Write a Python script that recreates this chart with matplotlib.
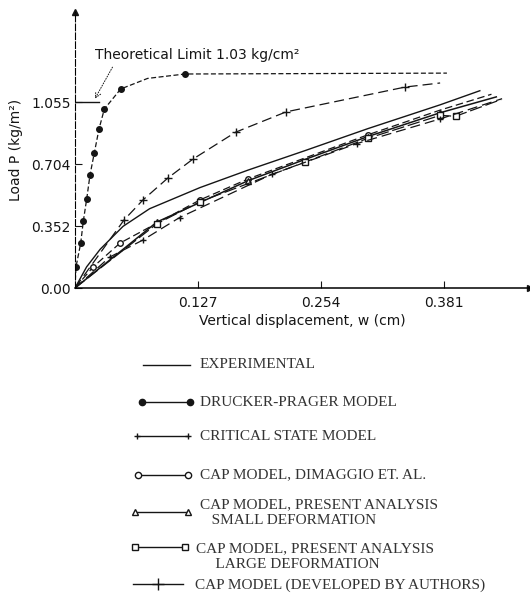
import numpy as np
import matplotlib
matplotlib.use("Agg")
import matplotlib.pyplot as plt

# values (w in cm, P in kg/cm2)
exp_w = [0, 0.012, 0.026, 0.0496, 0.077, 0.129, 0.179, 0.2375, 0.3025, 0.377, 0.418]
exp_p = [0, 0.12, 0.22, 0.35, 0.45, 0.57, 0.67, 0.78, 0.905, 1.04, 1.12]

dp_w = [0, 0.001, 0.0059, 0.0086, 0.0121, 0.0155, 0.0199, 0.0248, 0.0303, 0.0472, 0.075, 0.1136, 0.384]
dp_p = [0, 0.119, 0.255, 0.380, 0.506, 0.642, 0.766, 0.903, 1.016, 1.130, 1.19, 1.215, 1.22]
dp_marks = [1, 2, 3, 4, 5, 6, 7, 8, 9, 11]

cs_w = [0, 0.0506, 0.0702, 0.096, 0.1218, 0.166, 0.218, 0.341, 0.377]
cs_p = [0, 0.386, 0.500, 0.625, 0.732, 0.885, 1.0, 1.141, 1.164]

dim_w = [0, 0.0186, 0.0465, 0.129, 0.179, 0.3025, 0.377, 0.43]
dim_p = [0, 0.119, 0.255, 0.50, 0.62, 0.87, 1.01, 1.10]

small_w = [0, 0.0847, 0.179, 0.2375, 0.3025, 0.377, 0.435]
small_p = [0, 0.375, 0.61, 0.73, 0.86, 0.995, 1.085]

large_w = [0, 0.0847, 0.129, 0.2375, 0.3025, 0.377, 0.393, 0.44]
large_p = [0, 0.365, 0.49, 0.715, 0.85, 0.98, 0.975, 1.07]

auth_w = [0, 0.036, 0.070, 0.108, 0.203, 0.291, 0.377, 0.441]
auth_p = [0, 0.176, 0.272, 0.40, 0.645, 0.82, 0.96, 1.075]

limit_p = 1.055
limit_text = "Theoretical Limit 1.03 kg/cm\u00b2"

xticks = [0.127, 0.254, 0.381]
xtick_labels = ["0.127", "0.254", "0.381"]
yticks = [0.0, 0.352, 0.704, 1.055]
ytick_labels = ["0.00", "0.352", "0.704", "1.055"]

legend_labels = [
    "EXPERIMENTAL",
    "DRUCKER-PRAGER MODEL",
    "CRITICAL STATE MODEL",
    "CAP MODEL, DIMAGGIO ET. AL.",
    "CAP MODEL, PRESENT ANALYSIS\n   SMALL DEFORMATION",
    "CAP MODEL, PRESENT ANALYSIS\n     LARGE DEFORMATION",
    "CAP MODEL (DEVELOPED BY AUTHORS)",
]

ink = "#151515"

fig = plt.figure(figsize=(5.3, 6.02), dpi=100)
ax = fig.add_axes([75 / 530, 314 / 602, 455 / 530, 276 / 602])
ax.set_xlim(0, 0.4698)
ax.set_ylim(0, 1.567)

ax.plot(exp_w, exp_p, color=ink, lw=1.0)
ax.plot(dp_w, dp_p, color=ink, lw=0.9, ls=(0, (4, 2)), marker="o", ms=4,
        markevery=dp_marks)
ax.plot(cs_w, cs_p, color=ink, lw=0.9, ls=(0, (8, 4)), marker="+", ms=6,
        markevery=slice(1, -1))
ax.plot(dim_w, dim_p, color=ink, lw=0.9, ls=(0, (6, 3)), marker="o", ms=4,
        mfc="white", markevery=[1, 2, 3, 4, 5])
ax.plot(small_w, small_p, color=ink, lw=1.1, marker="^", ms=5,
        mfc="white", markevery=[1, 2, 4, 5])
ax.plot(large_w, large_p, color=ink, lw=0.9, ls=(0, (10, 3)), marker="s", ms=5,
        mfc="white", markevery=[1, 2, 3, 4, 5, 6])
ax.plot(auth_w, auth_p, color=ink, lw=0.9, ls=(0, (8, 4)), marker="+", ms=4,
        markevery=slice(1, -1))

# theoretical limit mark and note
ax.plot([0, 0.025], [limit_p, limit_p], color=ink, lw=1.0)
ax.annotate(limit_text, xy=(0.0206, limit_p + 0.02), xytext=(0.0206, 1.323),
            fontsize=10, va="center", ha="left", color=ink,
            arrowprops=dict(arrowstyle="->", color=ink, lw=0.7, ls=":",
                            shrinkA=2, shrinkB=0,
                            relpos=(0.1, 0.0)))

for s in ["top", "right"]:
    ax.spines[s].set_visible(False)
ax.spines["left"].set_linestyle((0, (6, 2)))
ax.spines["left"].set_linewidth(0.8)
ax.spines["bottom"].set_linewidth(1.1)
ax.plot(1, 0, ">", color=ink, ms=5, transform=ax.transAxes, clip_on=False)
ax.plot(0, 1, "^", color=ink, ms=4, transform=ax.transAxes, clip_on=False)

ax.set_xticks(xticks)
ax.set_xticklabels(xtick_labels)
ax.set_yticks(yticks)
ax.set_yticklabels(ytick_labels)
ax.tick_params(direction="in", length=5, width=0.8, labelsize=10, colors=ink)
ax.tick_params(axis="x", pad=6)
ax.tick_params(axis="y", pad=3)
ax.set_xlabel("Vertical displacement, w (cm)", fontsize=10, labelpad=3, color=ink)
ax.set_ylabel("Load P (kg/m\u00b2)", fontsize=10, labelpad=6, color=ink)

# hand-drawn style legend under the plot
lax = fig.add_axes([0, 0, 1, 1], zorder=-1)
lax.set_xlim(0, 530)
lax.set_ylim(602, 0)
lax.axis("off")

keys = [
    dict(x=(143, 190), y=365, tx=200, ty=365, marker=None, mfc=ink, every=None),
    dict(x=(142, 190), y=402, tx=200, ty=402, marker="o", mfc=ink, every=[0, 1]),
    dict(x=(137, 188), y=436, tx=200, ty=436, marker="+", mfc=ink, every=[0, 1]),
    dict(x=(138, 188), y=475, tx=200, ty=475, marker="o", mfc="white", every=[0, 1]),
    dict(x=(135, 188), y=512, tx=200, ty=513, marker="^", mfc="white", every=[0, 1]),
    dict(x=(135, 185), y=547, tx=196, ty=557, marker="s", mfc="white", every=[0, 1]),
    dict(x=(133, 183), y=584, tx=195, ty=585, marker=None, mfc=ink, every=None),
]
for k, lab in zip(keys, legend_labels):
    lax.plot(k["x"], [k["y"], k["y"]], color=ink, lw=1.0, marker=k["marker"],
             ms=4.5, mfc=k["mfc"], markevery=k["every"])
    lax.text(k["tx"], k["ty"], lab, fontsize=11, family="Liberation Serif",
             color="#333333", va="center", ha="left", linespacing=1.3)
lax.plot([sum(keys[-1]["x"]) / 2], [keys[-1]["y"]], "+", color=ink, ms=8)

fig.savefig("out.png", dpi=100)
